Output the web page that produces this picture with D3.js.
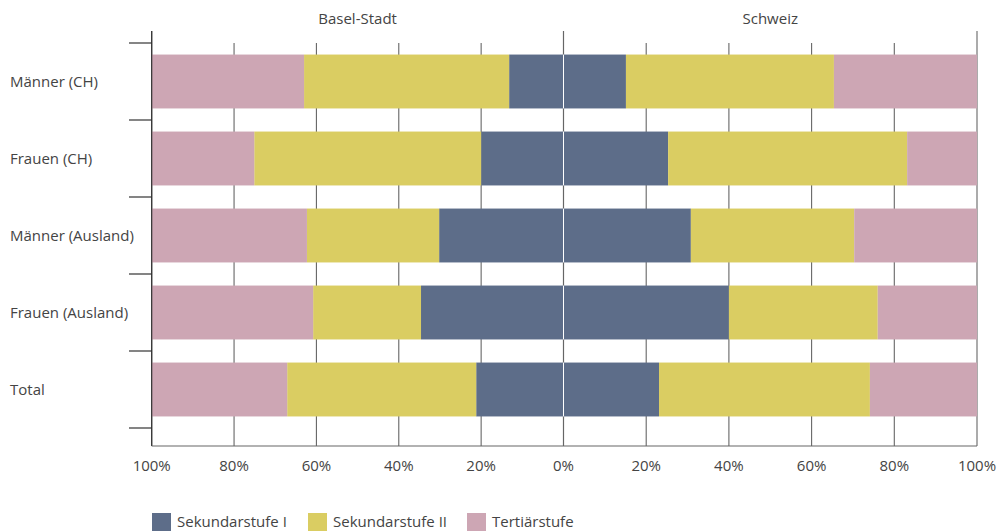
<!DOCTYPE html>
<html>
<head>
<meta charset="utf-8">
<script src="https://cdn.jsdelivr.net/npm/d3@7"></script>
<style>
  html, body { margin: 0; padding: 0; background: #fff; }
  svg { display: block; font-family: "Open Sans", "Noto Sans", sans-serif; }
</style>
</head>
<body>
<svg id="chart" width="1000" height="531"></svg>
<script>
const categories = ["Männer (CH)", "Frauen (CH)", "Männer (Ausland)", "Frauen (Ausland)", "Total"];
const seriesNames = ["Sekundarstufe I", "Sekundarstufe II", "Tertiärstufe"];
const panels = ["Basel-Stadt", "Schweiz"];

// Basel-Stadt (left side)
const bsSek1 = [13.2, 20.0, 30.2, 34.6, 21.2];
const bsSek2 = [49.8, 55.1, 32.1, 26.2, 45.9];
const bsTert = [37.0, 24.9, 37.7, 39.2, 32.9];
// Schweiz (right side)
const chSek1 = [15.1, 25.3, 30.8, 40.0, 23.1];
const chSek2 = [50.3, 57.8, 39.5, 36.0, 51.0];
const chTert = [34.6, 16.9, 29.7, 24.0, 25.9];

const tickValues = [0, 20, 40, 60, 80, 100];
const colors = ["#5d6d89", "#dacd62", "#cda6b4"];

(function () {
const svg = d3.select("#chart");
const xLeft = 151.7, xCenter = 563.5, xRight = 977;
const yTop = 43, yBottom = 428, axisY = 446;
const fs = 15;

const xL = d3.scaleLinear().domain([0, 100]).range([xCenter, xLeft]);
const xR = d3.scaleLinear().domain([0, 100]).range([xCenter, xRight]);
const y = d3.scaleBand().domain(categories).range([yTop, yBottom]).paddingInner(0.3).paddingOuter(0.15);
const color = d3.scaleOrdinal().domain(seriesNames).range(colors);

// gridlines
const gridG = svg.append("g");
[xL, xR].forEach(sc => {
  tickValues.forEach(t => {
    const edge = (t === 0 || t === 100);
    gridG.append("line")
      .attr("x1", sc(t)).attr("x2", sc(t))
      .attr("y1", edge ? 31 : yTop).attr("y2", axisY)
      .attr("stroke", "#666").attr("stroke-width", 1.1);
  });
});

// bars
function stackSide(s1, s2, s3, sc) {
  const g = svg.append("g");
  categories.forEach((c, i) => {
    const vals = [s1[i], s2[i], s3[i]];
    let cum = 0;
    vals.forEach((v, k) => {
      const a = sc(cum), b = sc(cum + v);
      g.append("rect")
        .attr("x", Math.min(a, b)).attr("width", Math.abs(b - a))
        .attr("y", y(c)).attr("height", y.bandwidth())
        .attr("fill", color(seriesNames[k]));
      cum += v;
    });
  });
}
stackSide(bsSek1, bsSek2, bsTert, xL);
stackSide(chSek1, chSek2, chTert, xR);

// white separator at centre over bars
categories.forEach(c => {
  svg.append("line")
    .attr("x1", xCenter).attr("x2", xCenter)
    .attr("y1", y(c)).attr("y2", y(c) + y.bandwidth())
    .attr("stroke", "#fff").attr("stroke-width", 1);
});

// left axis line + category ticks
svg.append("line").attr("x1", xLeft).attr("x2", xLeft).attr("y1", 31).attr("y2", axisY)
  .attr("stroke", "#333").attr("stroke-width", 1.2);
const bounds = categories.map(c => y(c) - y.step() * 0.15).concat([yBottom]);
bounds.forEach(b => {
  svg.append("line").attr("x1", 129).attr("x2", xLeft).attr("y1", b).attr("y2", b)
    .attr("stroke", "#333").attr("stroke-width", 1.2);
});

// bottom axis line
svg.append("line").attr("x1", xLeft).attr("x2", xRight).attr("y1", axisY).attr("y2", axisY)
  .attr("stroke", "#666").attr("stroke-width", 1.2);

// x tick labels
const lbl = svg.append("g").attr("font-size", fs).attr("fill", "#444").attr("text-anchor", "middle");
[xL, xR].forEach((sc, si) => {
  tickValues.forEach(t => {
    if (si === 1 && t === 0) return;
    lbl.append("text").attr("x", sc(t)).attr("y", 471).text(t + "%");
  });
});

// panel titles
svg.append("text").attr("x", (xLeft + xCenter) / 2).attr("y", 24).attr("text-anchor", "middle")
  .attr("font-size", fs).attr("fill", "#444").text(panels[0]);
svg.append("text").attr("x", (xCenter + xRight) / 2).attr("y", 24).attr("text-anchor", "middle")
  .attr("font-size", fs).attr("fill", "#444").text(panels[1]);

// category labels
categories.forEach(c => {
  svg.append("text").attr("x", 10).attr("y", y(c) + y.bandwidth() / 2 + 5)
    .attr("font-size", fs).attr("fill", "#444").text(c);
});

// legend
const legX = [152, 308, 467];
seriesNames.forEach((s, i) => {
  svg.append("rect").attr("x", legX[i]).attr("y", 513).attr("width", 19).attr("height", 19)
    .attr("fill", color(s));
  svg.append("text").attr("x", legX[i] + 25).attr("y", 527).attr("font-size", fs)
    .attr("fill", "#444").text(s);
});
})();
</script>
</body>
</html>
